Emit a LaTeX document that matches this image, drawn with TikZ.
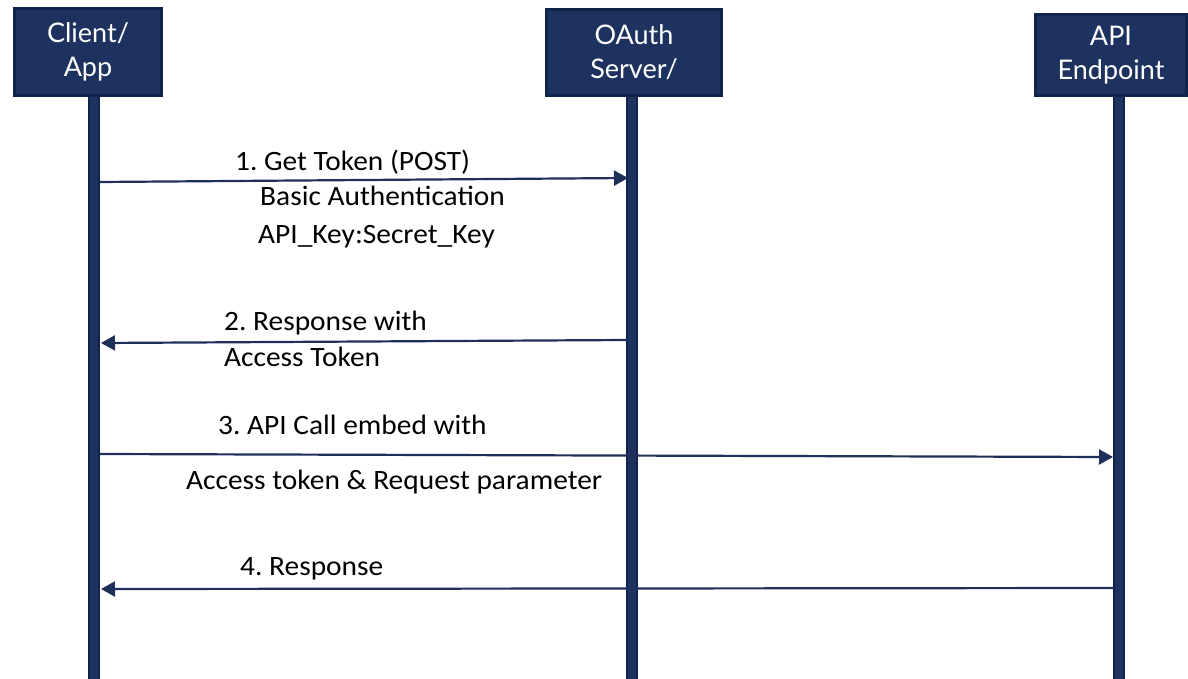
\documentclass[tikz,border=0pt]{standalone}
\usepackage{fontspec}
\setmainfont[FakeStretch=1.05]{Carlito}
\newfontfamily\headfont{Lato}
\usetikzlibrary{arrows.meta}
\frenchspacing

\definecolor{navy}{RGB}{29,50,95}
\definecolor{navyedge}{RGB}{15,35,75}
\definecolor{msgline}{RGB}{30,48,90}

\begin{document}
\begin{tikzpicture}[x=1pt,y=-1pt,
  actor/.style={draw=navyedge,line width=3pt,fill=navy,text=white,align=center,
    font=\headfont\fontsize{27}{34}\selectfont,inner sep=0pt},
  lifeline/.style={draw=navyedge,line width=2pt,fill=navy},
  msg/.style={msgline,line width=2.2pt,-{Triangle[length=14pt,width=15pt]}},
  lbl/.style={anchor=base west,inner sep=0pt,font=\fontsize{28}{32}\selectfont}]
  \useasboundingbox (0,0) rectangle (1188,679);

  % lifelines
  \foreach \x in {94,632,1119} {
    \draw[lifeline] (\x-5,90) rectangle (\x+5,680);
  }

  \node[actor,minimum width=147pt,minimum height=87pt] (client) at (88,52) {Client/\\App};
  \node[actor,minimum width=175pt,minimum height=86pt] (oauth) at (634,52.5) {OAuth\\Server/};
  \node[actor,minimum width=151pt,minimum height=81pt] (api) at (1111,55) {API\\Endpoint};

  \coordinate (get1) at (100,182);
  \coordinate (get2) at (628,178);
  \coordinate (resp1) at (627,340);
  \coordinate (resp2) at (101,343);
  \coordinate (call1) at (100,454);
  \coordinate (call2) at (1113,457);
  \coordinate (fin1) at (1113,588);
  \coordinate (fin2) at (101,589);

  \draw[msg] (get1) -- (get2);
  \draw[msg] (resp1) -- (resp2);
  \draw[msg] (call1) -- (call2);
  \draw[msg] (fin1) -- (fin2);

  \node[lbl] (gettitle) at (235,171) {1. Get Token (POST)};
  \node[lbl] (getauth) at (260,205) {Basic Authentication};
  \node[lbl] (getkey) at (258,243) {API\_Key:Secret\_Key};
  \node[lbl] (resptitle) at (224,330) {2. Response with};
  \node[lbl] (resptoken) at (224,366) {Access Token};
  \node[lbl] (calltitle) at (218,434) {3. API Call embed with};
  \node[lbl] (callparam) at (186,489) {Access token \& Request parameter};
  \node[lbl] (fintitle) at (240,575) {4. Response};
\end{tikzpicture}
\end{document}
